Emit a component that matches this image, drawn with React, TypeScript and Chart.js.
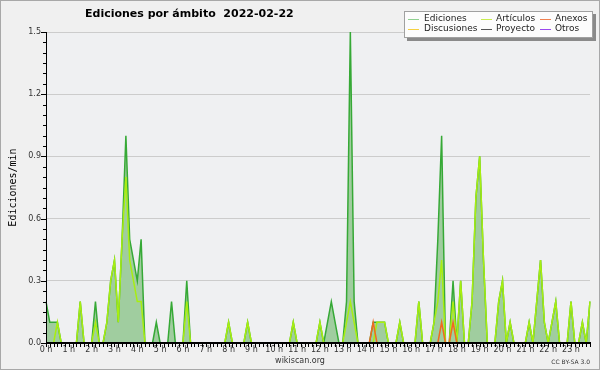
import React, { useEffect, useRef } from 'react';
import { Chart, registerables } from 'chart.js';

Chart.register(...registerables);

// ---- data (10-minute slots, edits per minute) ----
const hourLabels = ['0 h', '1 h', '2 h', '3 h', '4 h', '5 h', '6 h', '7 h', '8 h', '9 h', '10 h', '11 h',
  '12 h', '13 h', '14 h', '15 h', '16 h', '17 h', '18 h', '19 h', '20 h', '21 h', '22 h', '23 h'];

const slots: string[] = [];
for (let h = 0; h < 24; h++) for (let m = 0; m < 60; m += 10) slots.push(`${h}:${m < 10 ? '0' + m : m}`);

const ediciones = [
  0.2, 0.1, 0.1, 0.1, 0, 0, 0, 0, 0, 0.2, 0, 0,
  0, 0.2, 0, 0, 0.1, 0.3, 0.4, 0.1, 0.5, 1.0, 0.5, 0.4,
  0.3, 0.5, 0, 0, 0, 0.1, 0, 0, 0, 0.2, 0, 0,
  0, 0.3, 0, 0, 0, 0, 0, 0, 0, 0, 0, 0,
  0.1, 0, 0, 0, 0, 0.1, 0, 0, 0, 0, 0, 0,
  0, 0, 0, 0, 0, 0.1, 0, 0, 0, 0, 0, 0,
  0.1, 0, 0.1, 0.2, 0.1, 0, 0, 0.2, 1.5, 0.2, 0, 0,
  0, 0, 0.1, 0.1, 0.1, 0.1, 0, 0, 0, 0.1, 0, 0,
  0, 0, 0.2, 0, 0, 0, 0.1, 0.5, 1.0, 0, 0, 0.3,
  0, 0.3, 0, 0, 0.2, 0.7, 0.9, 0.4, 0, 0, 0, 0.2,
  0.3, 0, 0.1, 0, 0, 0, 0, 0.1, 0, 0.2, 0.4, 0.1,
  0, 0.1, 0.2, 0, 0, 0, 0.2, 0, 0, 0.1, 0, 0.2,
];

const articulos = [
  0, 0, 0, 0.1, 0, 0, 0, 0, 0, 0.2, 0, 0,
  0, 0.1, 0, 0, 0.1, 0.3, 0.4, 0.1, 0.5, 0.8, 0.4, 0.3,
  0.2, 0.2, 0, 0, 0, 0, 0, 0, 0, 0, 0, 0,
  0, 0.2, 0, 0, 0, 0, 0, 0, 0, 0, 0, 0,
  0.1, 0, 0, 0, 0, 0.1, 0, 0, 0, 0, 0, 0,
  0, 0, 0, 0, 0, 0.1, 0, 0, 0, 0, 0, 0,
  0.1, 0, 0, 0, 0, 0, 0, 0.1, 0.2, 0.1, 0, 0,
  0, 0, 0, 0.1, 0.1, 0.1, 0, 0, 0, 0.1, 0, 0,
  0, 0, 0.2, 0, 0, 0, 0.1, 0.2, 0.4, 0, 0, 0.2,
  0, 0.3, 0, 0, 0.2, 0.7, 0.9, 0.4, 0, 0, 0, 0.2,
  0.3, 0, 0.1, 0, 0, 0, 0, 0.1, 0, 0.2, 0.4, 0.1,
  0, 0.1, 0.2, 0, 0, 0, 0.2, 0, 0, 0.1, 0, 0.2,
];

const anexos = [
  0, 0, 0, 0, 0, 0, 0, 0, 0, 0, 0, 0,
  0, 0, 0, 0, 0, 0, 0, 0, 0, 0, 0, 0,
  0, 0, 0, 0, 0, 0, 0, 0, 0, 0, 0, 0,
  0, 0, 0, 0, 0, 0, 0, 0, 0, 0, 0, 0,
  0, 0, 0, 0, 0, 0, 0, 0, 0, 0, 0, 0,
  0, 0, 0, 0, 0, 0, 0, 0, 0, 0, 0, 0,
  0, 0, 0, 0, 0, 0, 0, 0, 0, 0, 0, 0,
  0, 0, 0.1, 0, 0, 0, 0, 0, 0, 0, 0, 0,
  0, 0, 0, 0, 0, 0, 0, 0, 0.1, 0, 0, 0.1,
  0, 0, 0, 0, 0, 0, 0, 0, 0, 0, 0, 0,
  0, 0, 0, 0, 0, 0, 0, 0, 0, 0, 0, 0,
  0, 0, 0, 0, 0, 0, 0, 0, 0, 0, 0, 0,
];

const discusiones = [
  0, 0, 0, 0, 0, 0, 0, 0, 0, 0, 0, 0, 0, 0, 0, 0, 0, 0, 0, 0, 0, 0, 0, 0,
  0, 0, 0, 0, 0, 0, 0, 0, 0, 0, 0, 0, 0, 0, 0, 0, 0, 0, 0, 0, 0, 0, 0, 0,
  0, 0, 0, 0, 0, 0, 0, 0, 0, 0, 0, 0, 0, 0, 0, 0, 0, 0, 0, 0, 0, 0, 0, 0,
  0, 0, 0, 0, 0, 0, 0, 0, 0, 0, 0, 0, 0, 0, 0, 0, 0, 0, 0, 0, 0, 0, 0, 0,
  0, 0, 0, 0, 0, 0, 0, 0, 0, 0, 0, 0, 0, 0, 0, 0, 0, 0, 0, 0, 0, 0, 0, 0,
  0, 0, 0, 0, 0, 0, 0, 0, 0, 0, 0, 0, 0, 0, 0, 0, 0, 0, 0, 0, 0, 0, 0, 0,
];
const proyecto = [
  0, 0, 0, 0, 0, 0, 0, 0, 0, 0, 0, 0, 0, 0, 0, 0, 0, 0, 0, 0, 0, 0, 0, 0,
  0, 0, 0, 0, 0, 0, 0, 0, 0, 0, 0, 0, 0, 0, 0, 0, 0, 0, 0, 0, 0, 0, 0, 0,
  0, 0, 0, 0, 0, 0, 0, 0, 0, 0, 0, 0, 0, 0, 0, 0, 0, 0, 0, 0, 0, 0, 0, 0,
  0, 0, 0, 0, 0, 0, 0, 0, 0, 0, 0, 0, 0, 0, 0, 0, 0, 0, 0, 0, 0, 0, 0, 0,
  0, 0, 0, 0, 0, 0, 0, 0, 0, 0, 0, 0, 0, 0, 0, 0, 0, 0, 0, 0, 0, 0, 0, 0,
  0, 0, 0, 0, 0, 0, 0, 0, 0, 0, 0, 0, 0, 0, 0, 0, 0, 0, 0, 0, 0, 0, 0, 0,
];
const otros = [
  0, 0, 0, 0, 0, 0, 0, 0, 0, 0, 0, 0, 0, 0, 0, 0, 0, 0, 0, 0, 0, 0, 0, 0,
  0, 0, 0, 0, 0, 0, 0, 0, 0, 0, 0, 0, 0, 0, 0, 0, 0, 0, 0, 0, 0, 0, 0, 0,
  0, 0, 0, 0, 0, 0, 0, 0, 0, 0, 0, 0, 0, 0, 0, 0, 0, 0, 0, 0, 0, 0, 0, 0,
  0, 0, 0, 0, 0, 0, 0, 0, 0, 0, 0, 0, 0, 0, 0, 0, 0, 0, 0, 0, 0, 0, 0, 0,
  0, 0, 0, 0, 0, 0, 0, 0, 0, 0, 0, 0, 0, 0, 0, 0, 0, 0, 0, 0, 0, 0, 0, 0,
  0, 0, 0, 0, 0, 0, 0, 0, 0, 0, 0, 0, 0, 0, 0, 0, 0, 0, 0, 0, 0, 0, 0, 0,
];

const titleText = 'Ediciones por ámbito  2022-02-22';
const yTitle = 'Ediciones/min';
const footerSite = 'wikiscan.org';
const footerLicense = 'CC BY-SA 3.0';

const legendSwatch: Record<string, string> = {
  'Ediciones': '#8fd08f',
  'Artículos': '#c8ec50',
  'Anexos': '#f08050',
  'Discusiones': '#f5d040',
  'Proyecto': '#555555',
  'Otros': '#9a48ee',
};

const decor = {
  id: 'decor',
  beforeDraw(chart: any) {
    const { ctx, chartArea: a, width, height } = chart;
    ctx.save();
    ctx.fillStyle = '#f0f0f0';
    ctx.fillRect(0, 0, width, height);
    ctx.fillStyle = '#eff0f2';
    ctx.fillRect(a.left, a.top, a.right - a.left, a.bottom - a.top);
    ctx.strokeStyle = '#a8a8a8';
    ctx.lineWidth = 1;
    ctx.strokeRect(0.5, 0.5, width - 1, height - 1);
    ctx.restore();
  },
  afterDatasetsDraw(chart: any) {
    const { ctx, chartArea: a, scales } = chart;
    const xs = scales.x;
    const ys = scales.y;
    ctx.save();
    ctx.strokeStyle = '#000';
    // y axis
    ctx.lineWidth = 1;
    ctx.beginPath();
    ctx.moveTo(a.left + 0.5, a.top);
    ctx.lineTo(a.left + 0.5, a.bottom + 1);
    ctx.stroke();
    // y ticks every 0.05
    for (let k = 0; k <= 30; k++) {
      const v = k * 0.05;
      const py = Math.round(ys.getPixelForValue(v)) + 0.5;
      const len = k % 6 === 0 ? 5 : 3;
      ctx.beginPath();
      ctx.moveTo(a.left - len, py);
      ctx.lineTo(a.left + 1, py);
      ctx.stroke();
    }
    // x ticks every slot
    for (let i = 0; i < slots.length; i++) {
      const px = Math.round(xs.getPixelForValue(i)) + 0.5;
      ctx.beginPath();
      ctx.moveTo(px, a.bottom);
      ctx.lineTo(px, a.bottom + 4);
      ctx.stroke();
    }
    // x axis
    ctx.lineWidth = 2;
    ctx.beginPath();
    ctx.moveTo(a.left, a.bottom);
    ctx.lineTo(a.right + 1, a.bottom);
    ctx.stroke();
    ctx.restore();
  },
  afterDraw(chart: any) {
    const { ctx, chartArea: a } = chart;
    ctx.save();
    // title
    ctx.fillStyle = '#000';
    ctx.font = 'bold 11px "DejaVu Sans"';
    ctx.textBaseline = 'middle';
    ctx.textAlign = 'left';
    ctx.fillText(titleText, 85, 14.5);
    // y title
    ctx.save();
    ctx.translate(13, (a.top + a.bottom) / 2);
    ctx.rotate(-Math.PI / 2);
    ctx.font = '10px "DejaVu Sans Mono"';
    ctx.textAlign = 'center';
    ctx.fillText(yTitle, 0, 0);
    ctx.restore();
    // footer
    ctx.fillStyle = '#333';
    ctx.font = '8px "DejaVu Sans"';
    ctx.textAlign = 'center';
    ctx.fillText(footerSite, 300, 361);
    ctx.font = '6px "DejaVu Sans"';
    ctx.textAlign = 'right';
    ctx.fillText(footerLicense, 590, 362.5);
    // legend box
    const bx = 404, by = 11, bw = 189, bh = 27;
    ctx.fillStyle = '#8a8a8a';
    ctx.fillRect(bx + 3, by + 3, bw, bh);
    ctx.fillStyle = '#fcfcfc';
    ctx.fillRect(bx, by, bw, bh);
    ctx.strokeStyle = '#a0a0a0';
    ctx.lineWidth = 1;
    ctx.strokeRect(bx + 0.5, by + 0.5, bw - 1, bh - 1);
    const lineX = [408, 481, 540];
    const textX = [424, 496, 555];
    const rowY = [19, 29];
    ctx.font = '9px "DejaVu Sans"';
    ctx.textAlign = 'left';
    ctx.textBaseline = 'middle';
    chart.data.datasets.forEach((ds: any, k: number) => {
      const c = k % 3, r = Math.floor(k / 3);
      ctx.strokeStyle = legendSwatch[ds.label] || ds.borderColor;
      ctx.lineWidth = 1;
      ctx.beginPath();
      ctx.moveTo(lineX[c], rowY[r] + 0.5);
      ctx.lineTo(lineX[c] + 11, rowY[r] + 0.5);
      ctx.stroke();
      ctx.fillStyle = '#222';
      ctx.fillText(ds.label, textX[c], rowY[r]);
    });
    ctx.restore();
  },
};

export default function App() {
  const ref = useRef<HTMLCanvasElement | null>(null);
  useEffect(() => {
    document.body.style.margin = '0';
    Chart.defaults.font.family = '"DejaVu Sans"';
    const line = (label: string, data: number[], color: string, order: number, extra: any = {}) => ({
      label, data, borderColor: color, borderWidth: 1.5, pointRadius: 0, tension: 0, fill: false, order, ...extra,
    });
    const chart = new Chart(ref.current!, {
      type: 'line',
      data: {
        labels: slots,
        datasets: [
          line('Ediciones', ediciones, '#36a936', 10, { fill: 'origin', backgroundColor: '#a0cd9f' }),
          line('Artículos', articulos, '#a8ee10', 1),
          line('Anexos', anexos, '#f06a20', 0),
          line('Discusiones', discusiones, '#f5c830', 4),
          line('Proyecto', proyecto, '#555555', 5),
          line('Otros', otros, '#9a48ee', 6),
        ],
      },
      options: {
        animation: false,
        responsive: false,
        devicePixelRatio: 1,
        layout: { padding: { top: 32, right: 10, left: 0, bottom: 0 } },
        plugins: { legend: { display: false }, title: { display: false }, tooltip: { enabled: false } },
        scales: {
          x: {
            type: 'category',
            offset: false,
            grid: { display: false, drawTicks: false },
            border: { display: false },
            ticks: {
              autoSkip: false,
              maxRotation: 0,
              minRotation: 0,
              padding: 2,
              color: '#333',
              font: { size: 8 },
              callback: (_v: any, i: number) => (i % 6 === 0 ? hourLabels[i / 6] : ''),
            },
            afterFit: (s: any) => { s.height = 27; },
          },
          y: {
            min: 0,
            max: 1.5,
            grid: { color: '#cccccc', drawTicks: false },
            border: { display: false },
            ticks: {
              stepSize: 0.3,
              padding: 5,
              color: '#333',
              font: { size: 8 },
              callback: (v: any) => Number(v).toFixed(1),
            },
            afterFit: (s: any) => { s.width = 46; },
          },
        },
      },
      plugins: [decor],
    } as any);
    return () => chart.destroy();
  }, []);
  return <canvas ref={ref} width={600} height={370} style={{ display: 'block', width: 600, height: 370 }} />;
}
